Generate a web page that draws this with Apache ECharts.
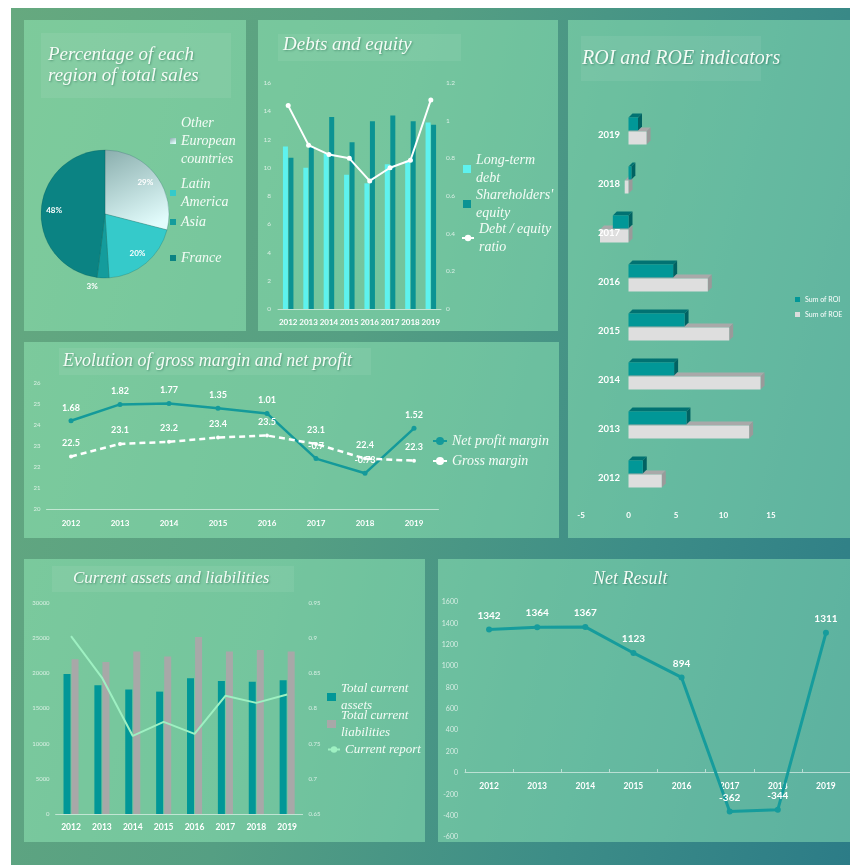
<!DOCTYPE html>
<html>
<head>
<meta charset="utf-8">
<script src="https://cdn.jsdelivr.net/npm/echarts@6/dist/echarts.min.js"></script>
<style>
  body { margin: 0; background: #fff; }
  #wrap { position: relative; width: 850px; height: 865px; overflow: hidden; background: #fff; }
  #bg { position: absolute; left: 11px; top: 8px; width: 839px; height: 857px;
        background: linear-gradient(105deg, #66a97f 0%, #559f83 40%, #3d8d87 72%, #2c7c87 100%); }
  .panel { position: absolute; background: rgba(160, 250, 195, 0.42); }
  .tbox { position: absolute; background: rgba(255, 255, 255, 0.07); }
  #chart { position: absolute; left: 0; top: 0; width: 850px; height: 865px; }
</style>
</head>
<body>
<div id="wrap">
  <div id="bg"></div>
  <div class="panel" style="left:24px;top:20px;width:222px;height:311px"></div>
  <div class="panel" style="left:258px;top:20px;width:300px;height:311px"></div>
  <div class="panel" style="left:568px;top:20px;width:282px;height:518px"></div>
  <div class="panel" style="left:24px;top:342px;width:535px;height:196px"></div>
  <div class="panel" style="left:24px;top:559px;width:401px;height:283px"></div>
  <div class="panel" style="left:438px;top:559px;width:412px;height:283px"></div>
  <div class="tbox" style="left:41px;top:33px;width:190px;height:65px"></div>
  <div class="tbox" style="left:278px;top:34px;width:183px;height:27px"></div>
  <div class="tbox" style="left:581px;top:36px;width:180px;height:45px"></div>
  <div class="tbox" style="left:59px;top:348px;width:312px;height:27px"></div>
  <div class="tbox" style="left:52px;top:566px;width:242px;height:26px"></div>
  <div id="chart"></div>
</div>
<script>
// donnees
var years = ['2012', '2013', '2014', '2015', '2016', '2017', '2018', '2019'];

var regions = ['Other European countries', 'Latin America', 'Asia', 'France'];
var regionShares = [29, 20, 3, 48];

var longTermDebt = [11.5, 10.0, 11.0, 9.5, 8.9, 10.25, 10.5, 13.2];
var equity = [10.7, 11.45, 13.6, 11.8, 13.3, 13.7, 13.3, 13.05];
var debtRatio = [1.08, 0.87, 0.82, 0.80, 0.68, 0.75, 0.79, 1.11];

var roi = [1.5, 6.1, 4.8, 5.9, 4.7, -1.65, 0.3, 1.0];
var roe = [3.5, 12.7, 13.9, 10.6, 8.35, -3.0, -0.4, 1.9];

// net profit margin: where the points sit on the chart, and the labels shown on them
var netProfitPlot = [24.2, 24.98, 25.02, 24.8, 24.55, 22.4, 21.7, 23.84];
var netProfitLabels = ['1.68', '1.82', '1.77', '1.35', '1.01', '-0.7', '-0.73', '1.52'];
var grossMargin = [22.5, 23.1, 23.2, 23.4, 23.5, 23.1, 22.4, 22.3];

var currentAssets = [19900, 18300, 17700, 17400, 19300, 18900, 18800, 19000];
var currentLiabilities = [22000, 21600, 23100, 22400, 25150, 23100, 23300, 23100];
var currentReport = [0.903, 0.844, 0.761, 0.781, 0.764, 0.818, 0.808, 0.820];

var netResult = [1342, 1364, 1367, 1123, 894, -362, -344, 1311];

var serif = 'Liberation Serif';
var sans = 'Lato';
var white = '#f4fcf6';

function titleStyle(size) {
  return {
    fontFamily: serif, fontStyle: 'italic', fontWeight: 'normal', fontSize: size,
    color: white, lineHeight: size + 2,
    textShadowColor: 'rgba(0,60,40,0.35)', textShadowBlur: 2, textShadowOffsetX: 1, textShadowOffsetY: 1
  };
}
function legendText(size) {
  return { fontFamily: serif, fontStyle: 'italic', fontSize: size, lineHeight: size + 4, color: white };
}
var breaks = {
  'Other European countries': 'Other\nEuropean\ncountries',
  'Latin America': 'Latin\nAmerica',
  'Long-term debt': 'Long-term\ndebt',
  "Shareholders' equity": "Shareholders'\nequity",
  'Debt / equity ratio': 'Debt / equity\nratio',
  'Total current assets': 'Total current\nassets',
  'Total current liabilities': 'Total current\nliabilities'
};
function brk(n) { return breaks[n] || n; }
function plain(v) { return '' + v; }

function oneLegend(name, left, top, opts) {
  var l = {
    data: [name], left: left, top: top, padding: 0, orient: 'vertical',
    icon: 'rect', itemWidth: 8, itemHeight: 8, selectedMode: false,
    itemStyle: { borderWidth: 0 },
    formatter: brk, textStyle: legendText(14)
  };
  for (var k in opts) l[k] = opts[k];
  return l;
}

var catLabel = { color: '#ffffff', fontWeight: 'bold', fontSize: 8, fontFamily: sans, interval: 0 };
var tickLabel = { color: 'rgba(255,255,255,0.72)', fontSize: 6.5, fontFamily: sans, formatter: plain };
var axisLn = { lineStyle: { color: 'rgba(255,255,255,0.55)', width: 1 } };

// barres 3D du ROI / ROE
function bar3d(topOff, cols) {
  return function (params, api) {
    var v = api.value(0), c = api.value(1);
    var a = api.coord([0, c]), b = api.coord([v, c]);
    var x0 = Math.min(a[0], b[0]), x1 = Math.max(a[0], b[0]);
    var yt = a[1] + topOff, h = 13, d = 4;
    return {
      type: 'group',
      children: [
        { type: 'polygon', shape: { points: [[x0, yt], [x1, yt], [x1 + d, yt - d], [x0 + d, yt - d]] }, style: { fill: cols[1] } },
        { type: 'polygon', shape: { points: [[x1, yt], [x1 + d, yt - d], [x1 + d, yt + h - d], [x1, yt + h]] }, style: { fill: cols[2] } },
        { type: 'rect', shape: { x: x0, y: yt, width: x1 - x0, height: h }, style: { fill: cols[0] } }
      ]
    };
  };
}

var chart = echarts.init(document.getElementById('chart'), null, { renderer: 'canvas' });

var pieData = regions.map(function (n, i) {
  return { name: n, value: regionShares[i] };
});
var pieColors = [
  new echarts.graphic.LinearGradient(0, 0, 0.6, 1, [
    { offset: 0, color: '#8aaead' }, { offset: 1, color: '#e2fcfc' }
  ]),
  '#35caca', '#149c9c', '#0b8383'
];

chart.setOption({
  animation: false,
  title: [
    { text: 'Percentage of each\nregion of total sales', left: 48, top: 44, padding: 0, textStyle: titleStyle(19) },
    { text: 'Debts and equity', left: 283, top: 34, padding: 0, textStyle: titleStyle(19) },
    { text: 'ROI and ROE indicators', left: 582, top: 48, padding: 0, textStyle: titleStyle(20) },
    { text: 'Evolution of gross margin and net profit', left: 63, top: 351, padding: 0, textStyle: titleStyle(18) },
    { text: 'Current assets and liabilities', left: 73, top: 569, padding: 0, textStyle: titleStyle(17) },
    { text: 'Net Result', left: 593, top: 569, padding: 0, textStyle: titleStyle(18) }
  ],
  legend: [
    oneLegend('Other European countries', 170, 114, { itemWidth: 6, itemHeight: 6 }),
    oneLegend('Latin America', 170, 175, { itemWidth: 6, itemHeight: 6 }),
    oneLegend('Asia', 170, 213, { itemWidth: 6, itemHeight: 6 }),
    oneLegend('France', 170, 249, { itemWidth: 6, itemHeight: 6 }),
    oneLegend('Long-term debt', 463, 151, {}),
    oneLegend("Shareholders' equity", 463, 186, {}),
    oneLegend('Debt / equity ratio', 461, 220, { icon: null, itemWidth: 12 }),
    {
      data: ['Sum of ROI', 'Sum of ROE'], left: 795, top: 296, padding: 0, orient: 'vertical',
      icon: 'rect', itemWidth: 5, itemHeight: 5, itemGap: 8, selectedMode: false,
      textStyle: { color: '#ffffff', fontSize: 7, fontFamily: sans }
    },
    {
      data: ['Net profit margin', 'Gross margin'], left: 432, top: 432, padding: 0, orient: 'vertical',
      itemWidth: 14, itemHeight: 10, itemGap: 2, selectedMode: false, textStyle: legendText(14)
    },
    oneLegend('Total current assets', 327, 680, { itemWidth: 9, textStyle: legendText(13) }),
    oneLegend('Total current liabilities', 327, 707, { itemWidth: 9, textStyle: legendText(13) }),
    oneLegend('Current report', 327, 741, { icon: null, itemWidth: 12, textStyle: legendText(13) })
  ],
  grid: [
    { left: 278, top: 83, width: 163, height: 226 },
    { left: 581, top: 110, width: 190, height: 392 },
    { left: 46.5, top: 383, width: 392, height: 126 },
    { left: 55.6, top: 603, width: 247, height: 211 },
    { left: 465, top: 602, width: 386, height: 235 }
  ],
  xAxis: [
    { type: 'category', gridIndex: 0, data: years, axisLine: axisLn, axisTick: { show: false },
      axisLabel: Object.assign({ margin: 9 }, catLabel) },
    { type: 'value', gridIndex: 1, min: -5, max: 15, interval: 5, splitLine: { show: false },
      axisLine: { show: false }, axisTick: { show: false },
      axisLabel: Object.assign({ margin: 9 }, catLabel) },
    { type: 'category', gridIndex: 2, data: years, axisLine: axisLn, axisTick: { show: false },
      axisLabel: Object.assign({ margin: 10 }, catLabel) },
    { type: 'category', gridIndex: 3, data: years, axisLine: axisLn, axisTick: { show: false },
      axisLabel: Object.assign({ margin: 9 }, catLabel, { fontSize: 8.5 }) },
    // axe place sur la ligne du zero (-600..1600 : 0 est a 65 px du bas)
    { type: 'category', gridIndex: 4, data: years, offset: -65,
      axisLine: { onZero: false, lineStyle: { color: 'rgba(255,255,255,0.55)', width: 1 } },
      axisTick: { show: true, inside: true, length: 3, lineStyle: { color: 'rgba(255,255,255,0.55)' } },
      axisLabel: Object.assign({ margin: 10 }, catLabel, { fontSize: 8.5 }) }
  ],
  yAxis: [
    { type: 'value', gridIndex: 0, min: 0, max: 16, interval: 2, splitLine: { show: false },
      axisLabel: Object.assign({ margin: 7 }, tickLabel) },
    { type: 'value', gridIndex: 0, min: 0, max: 1.2, interval: 0.2, position: 'right', splitLine: { show: false },
      axisLabel: Object.assign({ margin: 5 }, tickLabel) },
    // axe des annees place sur x = 0, dessine par-dessus les barres
    { type: 'category', gridIndex: 1, data: years, offset: -47, z: 10,
      axisLine: { show: false, onZero: false }, axisTick: { show: false },
      axisLabel: Object.assign({ margin: 8 }, catLabel, { fontSize: 9.5 }) },
    { type: 'value', gridIndex: 2, min: 20, max: 26, interval: 1, splitLine: { show: false },
      axisLabel: Object.assign({ margin: 6 }, tickLabel, { fontSize: 6 }) },
    { type: 'value', gridIndex: 3, min: 0, max: 30000, interval: 5000, splitLine: { show: false },
      axisLabel: Object.assign({ margin: 6 }, tickLabel, { fontSize: 6 }) },
    { type: 'value', gridIndex: 3, min: 0.65, max: 0.95, interval: 0.05, position: 'right', splitLine: { show: false },
      axisLabel: Object.assign({ margin: 6 }, tickLabel, { fontSize: 6, formatter: null }) },
    { type: 'value', gridIndex: 4, min: -600, max: 1600, interval: 200, splitLine: { show: false },
      axisLabel: Object.assign({ margin: 7 }, tickLabel, { fontSize: 7 }) }
  ],
  series: [
    // camembert
    {
      type: 'pie', center: [105, 214], radius: 64, startAngle: 90, label: { show: false },
      itemStyle: { borderColor: 'rgba(0,70,70,0.35)', borderWidth: 0.6 },
      data: pieData.map(function (d, i) {
        return { name: d.name, value: d.value, itemStyle: { color: pieColors[i] } };
      })
    },
    {
      type: 'pie', center: [105, 214], radius: [38, 58], startAngle: 90, silent: true,
      avoidLabelOverlap: false, itemStyle: { color: 'rgba(0,0,0,0)' },
      label: { position: 'inside', formatter: '{c}%', color: '#ffffff', fontSize: 8, fontWeight: 'bold', fontFamily: sans },
      labelLine: { show: false },
      data: pieData.map(function (d) {
        if (d.value < 5) {
          return { name: d.name, value: d.value, label: { position: 'outside' },
                   labelLine: { show: false, length: 14, length2: 0 } };
        }
        return d;
      })
    },
    // dettes et capitaux
    { name: 'Long-term debt', type: 'bar', xAxisIndex: 0, yAxisIndex: 0, data: longTermDebt,
      barWidth: 5, barGap: '10%', itemStyle: { color: '#5ef2ee' } },
    { name: "Shareholders' equity", type: 'bar', xAxisIndex: 0, yAxisIndex: 0, data: equity,
      barWidth: 5, itemStyle: { color: '#0b9393' } },
    { name: 'Debt / equity ratio', type: 'line', xAxisIndex: 0, yAxisIndex: 1, data: debtRatio,
      symbol: 'circle', symbolSize: 5, itemStyle: { color: '#ffffff' }, lineStyle: { color: '#ffffff', width: 2 } },
    // ROI / ROE
    { name: 'Sum of ROE', type: 'custom', xAxisIndex: 1, yAxisIndex: 2,
      renderItem: bar3d(-3, ['#dedede', '#a9a9a9', '#9a9a9a']), itemStyle: { color: '#dcdcdc' },
      encode: { x: 0, y: 1 }, data: roe.map(function (v, i) { return [v, i]; }) },
    { name: 'Sum of ROI', type: 'custom', xAxisIndex: 1, yAxisIndex: 2,
      renderItem: bar3d(-17, ['#019797', '#017272', '#016262']), itemStyle: { color: '#019797' },
      encode: { x: 0, y: 1 }, data: roi.map(function (v, i) { return [v, i]; }) },
    // marge
    { name: 'Net profit margin', type: 'line', xAxisIndex: 2, yAxisIndex: 3, data: netProfitPlot,
      symbol: 'circle', symbolSize: 5, itemStyle: { color: '#149a9a' }, lineStyle: { color: '#149a9a', width: 2.5 },
      label: { show: true, position: 'top', distance: 6, color: '#ffffff', fontWeight: 'bold', fontSize: 9, fontFamily: sans,
               formatter: function (p) { return netProfitLabels[p.dataIndex]; } } },
    { name: 'Gross margin', type: 'line', xAxisIndex: 2, yAxisIndex: 3, data: grossMargin,
      symbol: 'circle', symbolSize: 4, itemStyle: { color: '#ffffff' },
      lineStyle: { color: '#ffffff', width: 2.5, type: [6, 4] },
      label: { show: true, position: 'top', distance: 7, color: '#ffffff', fontWeight: 'bold', fontSize: 9, fontFamily: sans } },
    // actifs et passifs courants
    { name: 'Total current assets', type: 'bar', xAxisIndex: 3, yAxisIndex: 4, data: currentAssets,
      barWidth: 7, barGap: '15%', itemStyle: { color: '#019797' } },
    { name: 'Total current liabilities', type: 'bar', xAxisIndex: 3, yAxisIndex: 4, data: currentLiabilities,
      barWidth: 7, itemStyle: { color: '#a8a8a8' } },
    { name: 'Current report', type: 'line', xAxisIndex: 3, yAxisIndex: 5, data: currentReport,
      showSymbol: false, symbol: 'none', itemStyle: { color: '#9ef0c2' }, lineStyle: { color: '#9ef0c2', width: 2 } },
    // resultat net
    { name: 'Net Result', type: 'line', xAxisIndex: 4, yAxisIndex: 6, data: netResult,
      symbol: 'circle', symbolSize: 6, itemStyle: { color: '#169c9c' }, lineStyle: { color: '#169c9c', width: 3 },
      label: { show: true, position: 'top', distance: 6, color: '#ffffff', fontWeight: 'bold', fontSize: 10, fontFamily: sans } }
  ]
});
</script>
</body>
</html>
